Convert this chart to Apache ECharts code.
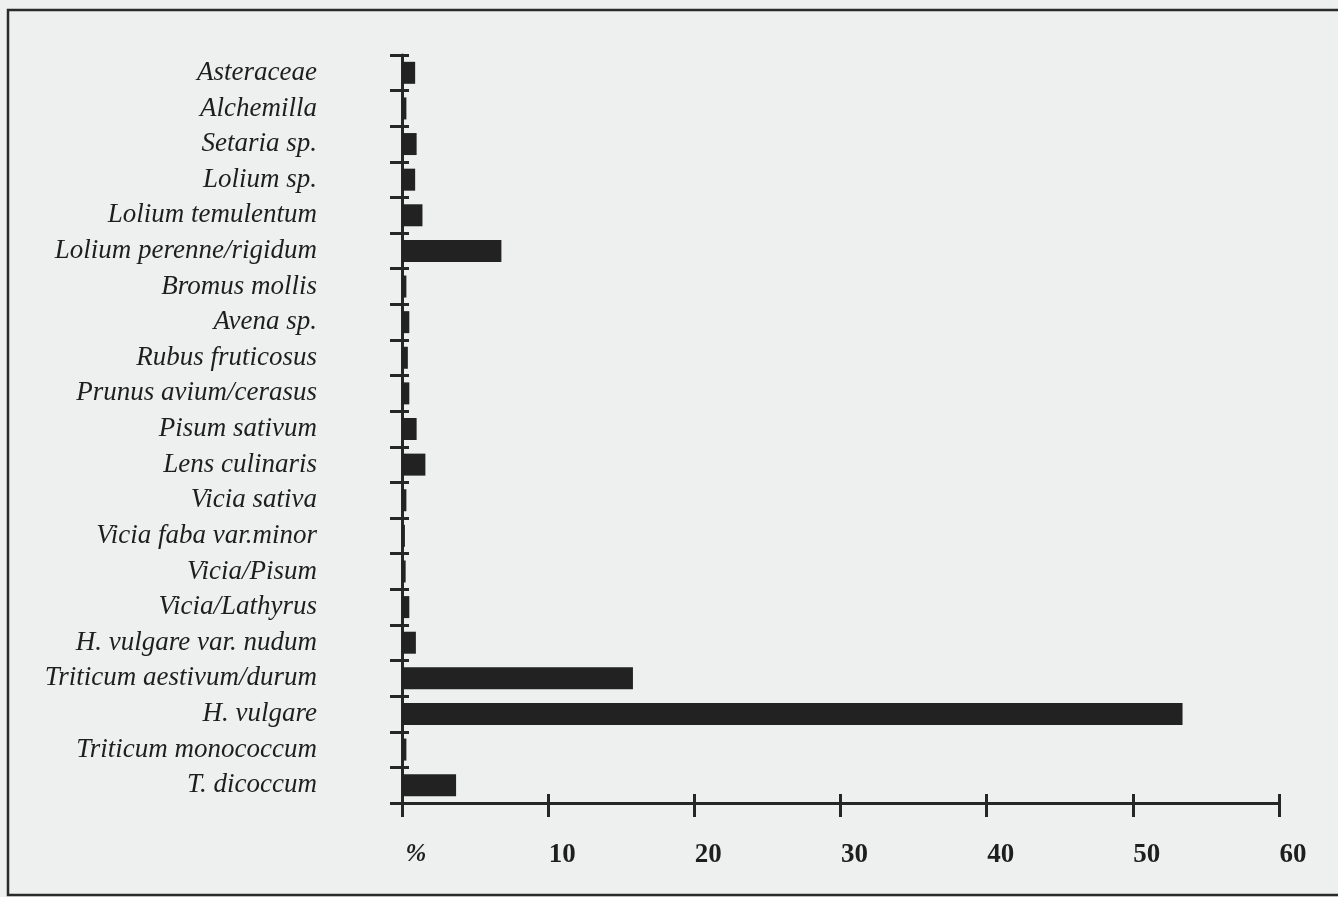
<!doctype html>
<html>
<head>
<meta charset="utf-8">
<title>Taxa %</title>
<style>
  html, body { margin: 0; padding: 0; background: #eef0f0; }
  #chart { width: 1338px; height: 897px; }
</style>
</head>
<body>
<div id="chart"></div>
<script src="https://cdn.jsdelivr.net/npm/echarts@6/dist/echarts.min.js"></script>
<script>
// taxa, top to bottom
var taxa = [
  'Asteraceae', 'Alchemilla', 'Setaria sp.', 'Lolium sp.', 'Lolium temulentum',
  'Lolium perenne/rigidum', 'Bromus mollis', 'Avena sp.', 'Rubus fruticosus',
  'Prunus avium/cerasus', 'Pisum sativum', 'Lens culinaris', 'Vicia sativa',
  'Vicia faba var.minor', 'Vicia/Pisum', 'Vicia/Lathyrus', 'H. vulgare var. nudum',
  'Triticum aestivum/durum', 'H. vulgare', 'Triticum monococcum', 'T. dicoccum'
];
// percentages
var percent = [
  0.9, 0.3, 1.0, 0.9, 1.4,
  6.8, 0.3, 0.5, 0.4,
  0.5, 1.0, 1.6, 0.3,
  0.2, 0.25, 0.5, 0.95,
  15.8, 53.4, 0.3, 3.7
];
var xTicks = [0, 10, 20, 30, 40, 50, 60];

var ink = '#262626';
var chart = echarts.init(document.getElementById('chart'));

var catAxis = function (inside, len, showLabel) {
  return {
    type: 'category',
    data: taxa,
    inverse: true,
    position: 'left',
    axisLine: { show: !inside, lineStyle: { color: ink, width: 3 } },
    axisTick: { show: true, inside: inside, length: len, lineStyle: { color: ink, width: 3 } },
    axisLabel: {
      show: showLabel,
      margin: 85,
      fontFamily: 'Liberation Serif',
      fontStyle: 'italic',
      fontSize: 27,
      color: '#1e1e1e'
    },
    splitLine: { show: false }
  };
};

var valAxis = function (inside, len, showLabel) {
  return {
    type: 'value',
    min: xTicks[0],
    max: xTicks[xTicks.length - 1],
    interval: 10,
    position: 'bottom',
    axisLine: { show: !inside, lineStyle: { color: ink, width: 3 } },
    axisTick: { show: true, inside: inside, length: len, lineStyle: { color: ink, width: 3 } },
    axisLabel: {
      show: showLabel,
      margin: 39,
      padding: [0, 0, 0, 28],
      fontFamily: 'Liberation Serif',
      fontWeight: 'bold',
      fontSize: 27,
      color: '#1e1e1e',
      formatter: function (v) { return v === 0 ? '{p|%}' : String(v); },
      rich: { p: { fontFamily: 'Liberation Serif', fontStyle: 'italic', fontSize: 25, color: '#1e1e1e' } }
    },
    splitLine: { show: false }
  };
};

chart.setOption({
  backgroundColor: '#eef0f0',
  animation: false,
  grid: { left: 402, right: 59, top: 55, bottom: 94 },
  xAxis: [valAxis(false, 14, true), valAxis(true, 9, false)],
  yAxis: [catAxis(false, 12, true), catAxis(true, 7, false)],
  graphic: [{
    type: 'rect',
    shape: { x: 8, y: 10, width: 1340, height: 885 },
    style: { fill: 'none', stroke: '#2a2a2a', lineWidth: 2.5 },
    silent: true
  }],
  series: [{
    type: 'bar',
    xAxisIndex: 0,
    yAxisIndex: 0,
    data: percent,
    barWidth: 22,
    itemStyle: { color: '#222' }
  }]
});
</script>
</body>
</html>
